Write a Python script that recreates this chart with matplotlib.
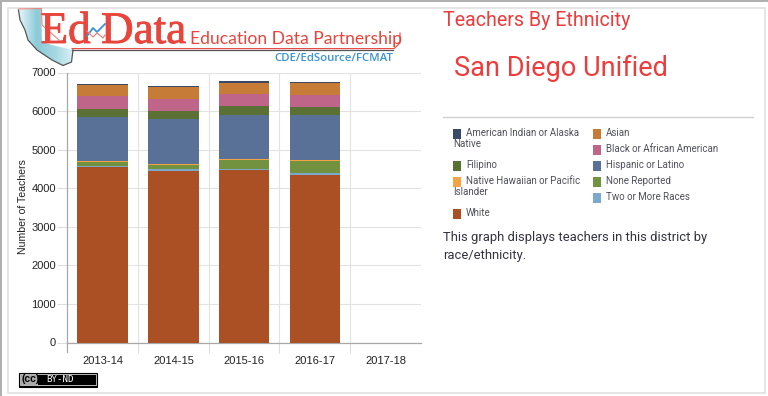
import numpy as np
import matplotlib
matplotlib.use("Agg")
import matplotlib.pyplot as plt
import matplotlib.patheffects as pe
from matplotlib.patches import Polygon, Rectangle

# ---- data ----
years = ["2013-14", "2014-15", "2015-16", "2016-17", "2017-18"]
white = [4554, 4450, 4476, 4346, 0]
two_or_more = [26, 52, 26, 52, 0]
none_reported = [104, 104, 234, 312, 0]
pacific = [26, 26, 26, 26, 0]
hispanic = [1143, 1161, 1135, 1161, 0]
filipino = [199, 207, 242, 216, 0]
black = [347, 312, 312, 303, 0]
asian = [277, 312, 277, 312, 0]
native = [35, 35, 61, 26, 0]

stack_order = [white, two_or_more, none_reported, pacific, hispanic,
               filipino, black, asian, native]
stack_colors = ["#AB5024", "#7BA9CC", "#72923F", "#F2A444", "#5A7197",
                "#5A7035", "#BE6589", "#C67B36", "#3A4A66"]
y_ticks = [0, 1000, 2000, 3000, 4000, 5000, 6000, 7000]

W, H = 768, 396
fig = plt.figure(figsize=(W / 100, H / 100), dpi=100, facecolor="white")
FONT = "Roboto"
SANS = "Liberation Sans"

# ---- pixel overlay for page furniture ----
pg = fig.add_axes([0, 0, 1, 1], zorder=0)
pg.set_xlim(0, W); pg.set_ylim(H, 0); pg.axis("off")
pg.add_patch(Rectangle((0, 0), W, 2.2, color="#B0B0B0", lw=0))
pg.add_patch(Rectangle((0, 0), 2.2, H, color="#B0B0B0", lw=0))
pg.add_patch(Rectangle((7.5, 7.5), 757, 385, fc="none", ec="#DEDEDE", lw=1.1))

# ---- chart ----
x0, x1, ytop, ybot = 67.3, 420.9, 72.5, 342.5
ax = fig.add_axes([x0 / W, 1 - ybot / H, (x1 - x0) / W, (ybot - ytop) / H], zorder=2)
ax.patch.set_alpha(0)
x = np.arange(len(years))
bottom = np.zeros(len(years))
for vals, col in zip(stack_order, stack_colors):
    ax.bar(x, vals, width=0.715, bottom=bottom, color=col, lw=0, zorder=3)
    bottom += np.array(vals)
ax.set_xlim(-0.5, len(years) - 0.5)
ax.set_ylim(0, 7000)
ax.set_yticks(y_ticks)
ax.set_yticklabels([str(v) for v in y_ticks], fontfamily=SANS, fontsize=8, color="#222222")
ax.set_xticks(x)
ax.set_xticklabels(years, fontfamily=SANS, fontsize=8, color="#222222")
ax.set_xticks(x[:-1] + 0.5, minor=True)
ax.tick_params(axis="x", which="major", length=0, pad=9.5)
ax.tick_params(axis="x", which="minor", length=7.2, color="#DDDDDD", width=0.8)
ax.tick_params(axis="y", length=7.2, color="#DDDDDD", width=0.8, pad=1)
ax.grid(True, axis="y", color="#E2E2E2", lw=0.8, zorder=0)
ax.grid(True, axis="x", which="minor", color="#E2E2E2", lw=0.8, zorder=0)
for s in ("top", "right"):
    ax.spines[s].set_visible(False)
ax.spines["left"].set_color("#A8A8A8")
ax.spines["bottom"].set_color("#A8A8A8")
ax.spines["left"].set_linewidth(0.9)
ax.spines["bottom"].set_linewidth(0.9)
pg.plot([x0, x0], [342, 352], color="#A8A8A8", lw=0.9)
pg.text(23, 206.5, "Number of Teachers", rotation=90, ha="center", va="center",
        fontfamily=SANS, fontsize=7.6, color="#222222")

# ---- logo (overlay) ----
lg = fig.add_axes([0, 0, 1, 1], zorder=3)
lg.set_xlim(0, W); lg.set_ylim(H, 0); lg.axis("off")
RED = "#E8453C"
state = [(18.5, 10), (41, 8.5), (41.5, 24), (42, 42), (52, 45), (73, 50), (71.5, 62),
         (63, 65.5), (52, 60), (37, 50), (28, 40), (25, 30), (20, 20)]
grad = np.linspace(0, 1, 80)[None, :]
cmap = matplotlib.colors.LinearSegmentedColormap.from_list(
    "s", ["#EAF6F8", "#8CCBD8", "#A5D8E2", "#DDF1F4"])
im = lg.imshow(grad, extent=(18, 74, 67, 8), cmap=cmap, aspect="auto", zorder=1)
poly = Polygon(state, closed=True, fc="none", ec="none", transform=lg.transData)
lg.add_patch(poly)
im.set_clip_path(poly)
lg.set_xlim(0, W); lg.set_ylim(H, 0)
lg.plot([18.5, 20, 25, 28, 37, 52, 63, 71.5, 73], [10, 20, 30, 40, 50, 60, 65.5, 62, 50],
        color="#555555", lw=0.9, zorder=2)
lg.plot([18.5, 41.5, 42, 59], [9, 8.5, 25, 40], color="#E8867E", lw=0.8, zorder=2)
lg.plot([72, 393], [49.9, 49.9], color="#555555", lw=0.9, zorder=2)
lg.plot([72, 394, 400, 400], [48.6, 48.6, 43, 33], color=RED, lw=0.8, zorder=2)
heavy = [pe.withStroke(linewidth=0.6, foreground=RED)]
lg.text(40.5, 43, "Ed", fontfamily="Liberation Serif", fontsize=32.5, color=RED,
        va="baseline", zorder=3, path_effects=heavy)
lg.text(101, 43, "Data", fontfamily="Liberation Serif", fontsize=32.5, color=RED,
        va="baseline", zorder=3, path_effects=heavy)
lg.plot([87, 93, 97, 105], [36, 28, 32, 24], color="#3A93D5", lw=1.3, zorder=3)
lg.plot([87, 93, 97, 103, 105], [31, 37, 33, 38, 35], color="#E8867E", lw=0.9, zorder=3)
lg.text(190, 44, "Education Data Partnership", fontfamily="Lato", fontsize=12.6,
        color=RED, va="baseline", zorder=3)
lg.text(274, 61, "CDE/EdSource/FCMAT", fontfamily="Open Sans", fontsize=8.2, fontweight="semibold",
        color="#3A93D5", va="baseline", zorder=3)

# ---- right panel ----
TITLE = "#EE3B3B"
pg.text(443, 21, "Teachers By Ethnicity", fontfamily=FONT, fontsize=14.1, color=TITLE, va="center")
pg.text(453.5, 68, "San Diego Unified", fontfamily=FONT, fontsize=19.5, color=TITLE, va="center")
pg.plot([443, 753], [116.5, 116.5], color="#CFCFCF", lw=1)

LEG = "#50505C"
LFS = 7.05
legend_rows = [
    ("American Indian or Alaska", "Native", "#3A4A66", 453, 129, 132.7),
    ("Asian", None, "#C67B36", 593, 129, 132.7),
    ("Black or African American", None, "#BE6589", 593, 145, 148.7),
    ("Filipino", None, "#5A7035", 453, 161, 164.7),
    ("Hispanic or Latino", None, "#5A7197", 593, 161, 164.7),
    ("Native Hawaiian or Pacific", "Islander", "#F2A444", 453, 177, 180.7),
    ("None Reported", None, "#72923F", 593, 177, 180.7),
    ("Two or More Races", None, "#7BA9CC", 593, 193, 196.7),
    ("White", None, "#AB5024", 453, 209, 212.7),
]
for line1, line2, col, lx, sy, ty in legend_rows:
    pg.add_patch(Rectangle((lx, sy), 8, 10, color=col, lw=0))
    pg.text(lx + 13, ty, line1, fontfamily=FONT, fontsize=LFS, color=LEG, va="center")
    if line2:
        pg.text(lx, ty + 11, line2, fontfamily=FONT, fontsize=LFS, color=LEG, va="center")

pg.text(443, 237, "This graph displays teachers in this district by", fontfamily=FONT,
        fontsize=9.35, color="#333340", va="center")
pg.text(443, 255.5, "race/ethnicity.", fontfamily=FONT, fontsize=9.35, color="#333340", va="center")

# ---- CC badge ----
pg.add_patch(Rectangle((18.5, 372.5), 78.5, 14, fc="black", ec="black", lw=0.8, zorder=5))
pg.add_patch(Rectangle((19.8, 373.8), 76, 11.5, fc="none", ec="white", lw=0.5, zorder=5))
pg.add_patch(Rectangle((20.5, 374.5), 17, 10, fc="#AAAAAA", lw=0, zorder=5))
pg.text(30.5, 379, "(cc)", fontfamily=SANS, fontsize=7.5, fontweight="bold",
        ha="center", va="center", color="black", zorder=7)
pg.text(46.5, 379.5, "BY-ND", fontfamily="DejaVu Sans Mono", fontsize=6.6, color="white",
        va="center", zorder=7)

fig.savefig("out.png", dpi=100, facecolor="white")
